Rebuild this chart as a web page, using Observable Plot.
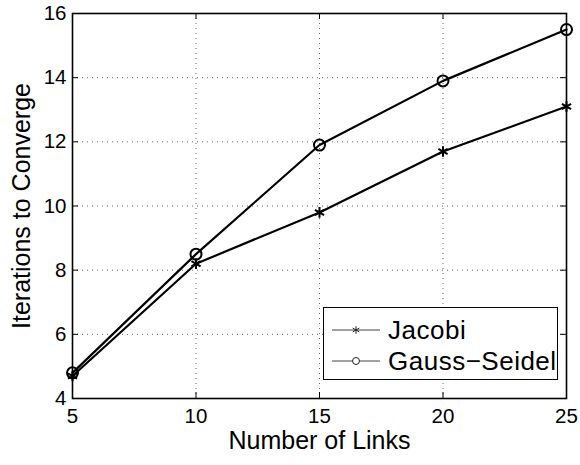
<!DOCTYPE html>
<html><head><meta charset="utf-8">
<script src="https://cdn.jsdelivr.net/npm/d3@7"></script>
<script src="https://cdn.jsdelivr.net/npm/@observablehq/plot@0.6"></script>
<style>
body{margin:0;background:#fff;}
#wrap{position:relative;width:580px;height:465px;font-family:"Liberation Sans",Arial,sans-serif;}
#legend{position:absolute;left:323px;top:307px;width:233px;height:71px;border:1.5px solid #000;background:#fff;}
.row{position:absolute;left:0;height:30px;display:flex;align-items:center;}
.row span{font-size:26px;letter-spacing:0.5px;margin-left:0px;color:#000;}
</style>
</head><body><div id="wrap"></div>
<script>
const links = [5, 10, 15, 20, 25];
const jacobi = [4.7, 8.2, 9.8, 11.7, 13.1];
const gaussSeidel = [4.8, 8.5, 11.9, 13.9, 15.5];
const xTicks = [5, 10, 15, 20, 25];
const yTicks = [4, 6, 8, 10, 12, 14, 16];
const seriesNames = ["Jacobi", "Gauss\u2212Seidel"];
const xLabel = "Number of Links";
const yLabel = "Iterations to Converge";

const W = 580, H = 465, mL = 72, mR = 14, mT = 13, mB = 67;
const iw = W - mL - mR, ih = H - mT - mB;
const jData = links.map((x, i) => ({x, y: jacobi[i], s: seriesNames[0]}));
const gData = links.map((x, i) => ({x, y: gaussSeidel[i], s: seriesNames[1]}));
const grid = {stroke: "#000", strokeOpacity: 0.6, strokeDasharray: "1,4", strokeWidth: 1};

const chart = Plot.plot({
  width: W, height: H,
  marginLeft: mL, marginRight: mR, marginTop: mT, marginBottom: mB,
  style: {fontFamily: "'Liberation Sans', Arial, sans-serif", fontSize: "20px", color: "#000", background: "#fff"},
  x: {domain: [5, 25]},
  y: {domain: [4, 16]},
  marks: [
    Plot.gridX(xTicks.slice(1, -1), grid),
    Plot.gridY(yTicks.slice(1, -1), grid),
    Plot.tickX(xTicks, {x: d => d, insetTop: ih - 6, stroke: "#000"}),
    Plot.tickX(xTicks, {x: d => d, insetBottom: ih - 6, stroke: "#000"}),
    Plot.tickY(yTicks, {y: d => d, insetRight: iw - 6, stroke: "#000"}),
    Plot.tickY(yTicks, {y: d => d, insetLeft: iw - 6, stroke: "#000"}),
    Plot.frame({stroke: "#000", strokeWidth: 1.6}),
    Plot.line(jData, {x: "x", y: "y", stroke: "#000", strokeWidth: 2.2}),
    Plot.line(gData, {x: "x", y: "y", stroke: "#000", strokeWidth: 2.2}),
    Plot.dot(gData, {x: "x", y: "y", symbol: "circle", r: 5.5, stroke: "#000", strokeWidth: 2, fill: "none"}),
    Plot.dot(jData, {x: "x", y: "y", symbol: "asterisk", r: 5, stroke: "#000", strokeWidth: 2}),
    Plot.axisX(xTicks, {tickSize: 0, tickPadding: 10, label: null, fontSize: 20.5}),
    Plot.axisY(yTicks, {tickSize: 0, tickPadding: 6, label: null, fontSize: 20.5}),
    Plot.text([xLabel], {frameAnchor: "bottom", dy: 50, fontSize: 25, text: d => d, fill: "#000", style: "letter-spacing:1.6px"}),
    Plot.text([yLabel], {frameAnchor: "left", textAnchor: "middle", dx: -51, rotate: -90, fontSize: 25, text: d => d, fill: "#000", style: "letter-spacing:1.1px"})
  ]
});
const wrap = document.getElementById("wrap");
wrap.appendChild(chart);

// legend
const leg = document.createElement("div");
leg.id = "legend";
seriesNames.forEach((name, i) => {
  const row = document.createElement("div");
  row.className = "row";
  row.style.top = (i === 0 ? 7 : 38) + "px";
  const sym = d3.symbol(i === 0 ? d3.symbolAsterisk : d3.symbolCircle, i === 0 ? 40 : 38)();
  row.innerHTML = `<svg width="58" height="30" style="margin-left:6px"><line x1="2" x2="50" y1="15" y2="15" stroke="#444" stroke-width="1"/><path d="${sym}" transform="translate(26,15)" fill="${i === 0 ? 'none' : '#fff'}" stroke="#222" stroke-width="1"/></svg><span>${name}</span>`;
  leg.appendChild(row);
});
wrap.appendChild(leg);
</script>
</body></html>
